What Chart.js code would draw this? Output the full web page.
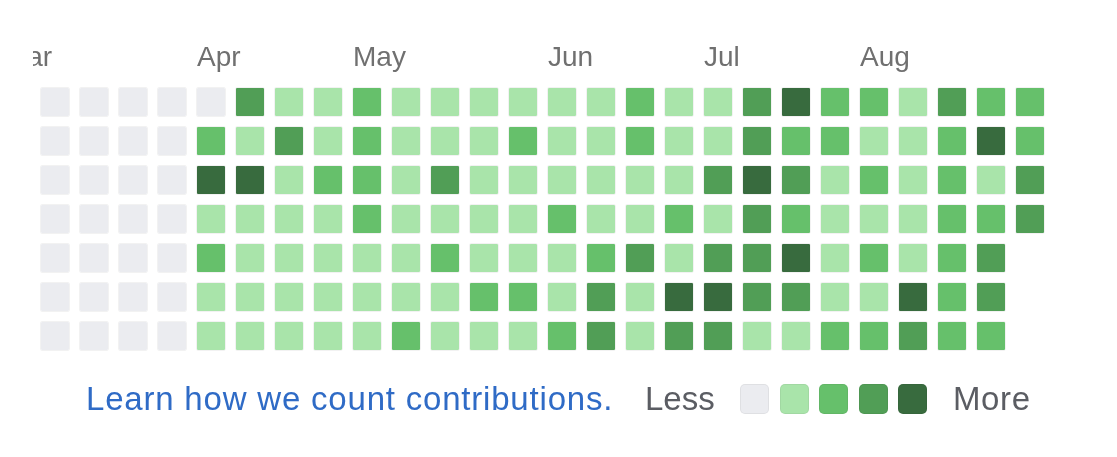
<!DOCTYPE html>
<html>
<head>
<meta charset="utf-8">
<script src="https://cdn.jsdelivr.net/npm/chart.js@4.4.1/dist/chart.umd.min.js"></script>
<style>
  html, body { margin: 0; padding: 0; background: #ffffff; }
  #wrap { position: relative; width: 1117px; height: 457px; overflow: hidden; }
  #calendar { position: absolute; left: 0; top: 0; }
  .foot { position: absolute; font-family: "Liberation Sans", Arial, sans-serif; font-size: 33px; line-height: 33px; top: 382px; white-space: nowrap; }
  .learn { left: 86px; color: #2f6bc6; letter-spacing: 0.8px; }
  .less { left: 645px; color: #5b5d63; }
  .more { left: 953px; color: #5b5d63; letter-spacing: 0.6px; }
  .sq { position: absolute; top: 384px; width: 29px; height: 30px; border-radius: 5px; box-sizing: border-box; border: 1px solid rgba(27,31,35,0.06); }
</style>
</head>
<body>
<div id="wrap">
  <canvas id="calendar"></canvas>
  <span class="foot learn">Learn how we count contributions.</span>
  <span class="foot less">Less</span>
  <span class="foot more">More</span>
  <div id="scale"></div>
</div>
<script>
// week columns, oldest first
const weeks = ["w1", "w2", "w3", "w4", "w5", "w6", "w7", "w8", "w9", "w10", "w11", "w12", "w13",
  "w14", "w15", "w16", "w17", "w18", "w19", "w20", "w21", "w22", "w23", "w24", "w25", "w26"];

// month labels and the week column they start on ("Mar" is cut off at the left edge)
const monthNames = ["Mar", "Apr", "May", "Jun", "Jul", "Aug"];
const monthWeek = [-0.95, 4, 8, 13, 17, 21];

// contribution level per week (0 = none ... 4 = most), one array per weekday
const sun = [0, 0, 0, 0, 0, 3, 1, 1, 2, 1, 1, 1, 1, 1, 1, 2, 1, 1, 3, 4, 2, 2, 1, 3, 2, 2];
const mon = [0, 0, 0, 0, 2, 1, 3, 1, 2, 1, 1, 1, 2, 1, 1, 2, 1, 1, 3, 2, 2, 1, 1, 2, 4, 2];
const tue = [0, 0, 0, 0, 4, 4, 1, 2, 2, 1, 3, 1, 1, 1, 1, 1, 1, 3, 4, 3, 1, 2, 1, 2, 1, 3];
const wed = [0, 0, 0, 0, 1, 1, 1, 1, 2, 1, 1, 1, 1, 2, 1, 1, 2, 1, 3, 2, 1, 1, 1, 2, 2, 3];
const thu = [0, 0, 0, 0, 2, 1, 1, 1, 1, 1, 2, 1, 1, 1, 2, 3, 1, 3, 3, 4, 1, 2, 1, 2, 3, null];
const fri = [0, 0, 0, 0, 1, 1, 1, 1, 1, 1, 1, 2, 2, 1, 3, 1, 4, 4, 3, 3, 1, 1, 4, 2, 3, null];
const sat = [0, 0, 0, 0, 1, 1, 1, 1, 1, 2, 1, 1, 1, 2, 3, 1, 3, 3, 1, 1, 2, 2, 3, 2, 2, null];

const levelColors = ["#ebecf0", "#a9e4aa", "#66c06b", "#519e56", "#386b3e"];

const days = [sun, mon, tue, wed, thu, fri, sat];

// legend swatches
const scaleBox = document.getElementById("scale");
levelColors.forEach(function (c, i) {
  const d = document.createElement("div");
  d.className = "sq";
  d.style.left = (740 + i * 39.5) + "px";
  d.style.background = c;
  scaleBox.appendChild(d);
});

const datasets = days.map(function (levels, d) {
  return {
    label: "day " + d,
    data: levels.map(function (lv) { return lv === null ? null : [d + 0.115, d + 0.885]; }),
    backgroundColor: levels.map(function (lv) { return lv === null ? "transparent" : levelColors[lv]; }),
    borderColor: "rgba(27,31,35,0.06)",
    borderWidth: 1,
    borderSkipped: false,
    borderRadius: 2,
    grouped: false,
    barPercentage: 30 / 39,
    categoryPercentage: 1,
  };
});

const monthPlugin = {
  id: "months",
  afterDraw(chart) {
    const ctx = chart.ctx;
    const x = chart.scales.x;
    const step = x.getPixelForValue(1) - x.getPixelForValue(0);
    ctx.save();
    ctx.beginPath();
    ctx.rect(33, 0, chart.width - 33, chart.height);
    ctx.clip();
    ctx.fillStyle = "#707070";
    ctx.font = "28px 'Liberation Sans', Arial, sans-serif";
    ctx.textBaseline = "alphabetic";
    ctx.textAlign = "left";
    monthNames.forEach(function (m, i) {
      const px = x.getPixelForValue(0) + monthWeek[i] * step - step * 15 / 39;
      ctx.fillText(m, px + 1, 66);
    });
    ctx.restore();
  },
};

const config = {
  type: "bar",
  data: { labels: weeks, datasets: datasets },
  options: {
    responsive: false,
    animation: false,
    layout: { padding: { left: 35.5, right: 67.5, top: 82.5, bottom: 101.5 } },
    plugins: { legend: { display: false }, tooltip: { enabled: false } },
    scales: {
      x: { display: false },
      y: { display: false, min: 0, max: 7, reverse: true },
    },
  },
  plugins: [monthPlugin],
};

const canvas = document.getElementById("calendar");
canvas.width = 1117;
canvas.height = 457;
canvas.style.width = "1117px";
canvas.style.height = "457px";

if (canvas) {
  new Chart(canvas, config);
} else {
  console.error("Canvas element not found");
}
</script>
</body>
</html>
